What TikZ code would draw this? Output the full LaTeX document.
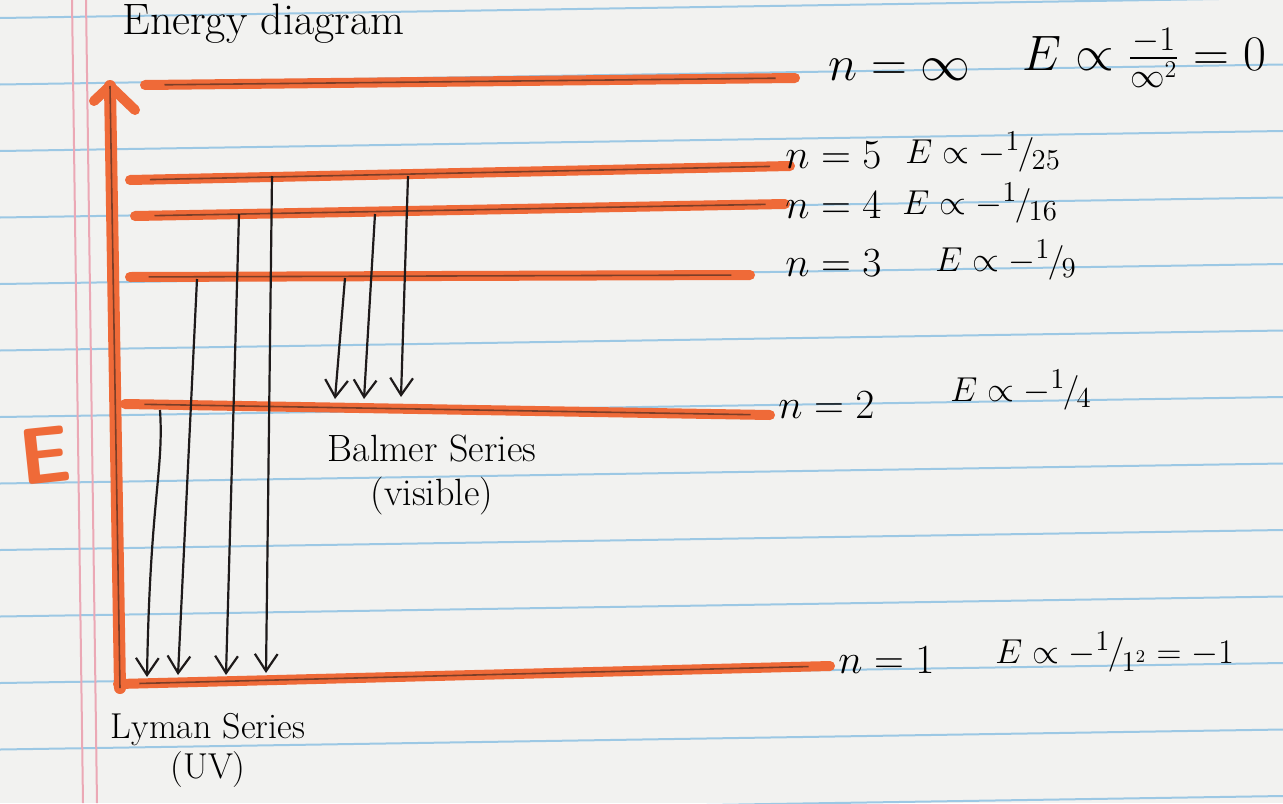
\documentclass[tikz,border=0pt]{standalone}
\usepackage{amsmath,amssymb}
\usepackage{xcolor}
\definecolor{marker}{HTML}{EF6A38}
\definecolor{ink}{HTML}{1E1A1A}
\definecolor{rulecol}{HTML}{9CC8E4}
\definecolor{margincol}{HTML}{EBA8B5}
\definecolor{paper}{HTML}{F2F2F0}
\usepackage{tikz}
\usetikzlibrary{arrows.meta,positioning,calc}
\newcommand{\hfr}[2]{{}^{#1}\mkern-1.5mu/\mkern-1.5mu_{#2}}
\tikzset{
  >={Straight Barb[length=3mm,width=4mm]},
  lvl/.style={draw=marker,line width=5pt,line cap=round,line join=round},
  core/.style={draw=ink,line width=0.8pt,opacity=0.55},
  trans/.style={->,draw=ink,line width=1.1pt},
  paperline/.style={draw=rulecol,line width=1pt},
  marginline/.style={draw=margincol,line width=1pt},
  lab/.style={font=\fontsize{20}{22}\selectfont,anchor=west,inner sep=0pt},
  exprlab/.style={lab,font=\fontsize{19}{22}\selectfont},
  biglab/.style={lab,font=\fontsize{24}{26}\selectfont},
  ser/.style={font=\fontsize{19}{22}\selectfont,align=center,inner sep=0pt},
}

\begin{document}
\begin{tikzpicture}[x=0.5pt,y=-0.5pt]
\useasboundingbox (0,0) rectangle (1283,803);
\fill[paper] (0,0) rectangle (1283,803);
% notebook paper
\foreach \k in {0,...,12}
  \draw[paperline] (0,{18+66.5*\k}) -- (1283,{-2+66.5*\k});
\draw[marginline] (72,0) -- (83,803);
\draw[marginline] (86,0) -- (97,803);
\node[font=\fontsize{22}{24}\selectfont,anchor=base west,inner sep=0pt] (title) at (122,34) {Energy diagram};

% levels
\coordinate (ninfL) at (145,85);  \coordinate (ninfR) at (795,78);
\coordinate (n5L) at (130,180);   \coordinate (n5R) at (790,166);
\coordinate (n4L) at (135,216);   \coordinate (n4R) at (785,204);
\coordinate (n3L) at (130,277);   \coordinate (n3R) at (750,275);
\coordinate (n2L) at (125,404);   \coordinate (n2R) at (770,415);
\coordinate (n1L) at (118,684);   \coordinate (n1R) at (830,666);
\foreach \lv in {ninf,n5,n4,n3,n2,n1}{
  \draw[lvl] (\lv L) -- (\lv R);
  \draw[core] ($(\lv L)!0.03!(\lv R)$) -- ($(\lv L)!0.97!(\lv R)$);
}

% energy axis
\coordinate (origin) at (120,688);
\coordinate (top) at (110,86);
\coordinate (wl) at (94,101);
\coordinate (wr) at (135,110);
\draw[lvl,line width=6pt] (origin) -- (top);
\draw[lvl] (wl) -- (top) -- (wr);
\draw[core] (origin) -- (top);
\node[font=\fontsize{40}{40}\sffamily\bfseries,text=marker,rotate=6,inner sep=0pt] (elab) at (45,455) {E};

% Lyman series
\coordinate (ly2a) at (160,410); \coordinate (ly2b) at (147,677);
\coordinate (ly3a) at (197,279); \coordinate (ly3b) at (178,675);
\coordinate (ly4a) at (239,214); \coordinate (ly4b) at (226,675);
\coordinate (ly5a) at (272,176); \coordinate (ly5b) at (266,673);
\draw[trans] (ly2a) .. controls (164,470) and (150,500) .. (ly2b);
\draw[trans] (ly3a) -- (ly3b);
\draw[trans] (ly4a) -- (ly4b);
\draw[trans] (ly5a) -- (ly5b);

% Balmer series
\coordinate (ba3a) at (345,278); \coordinate (ba3b) at (335,399);
\coordinate (ba4a) at (375,214); \coordinate (ba4b) at (364,399);
\coordinate (ba5a) at (408,176); \coordinate (ba5b) at (401,397);
\draw[trans] (ba3a) -- (ba3b);
\draw[trans] (ba4a) -- (ba4b);
\draw[trans] (ba5a) -- (ba5b);

% labels
\node[biglab] (linf) at (828,70) {$n=\infty$};
\node[biglab] (einf) at (1022,58) {$E\propto\frac{-1}{\infty^2}=0$};
\node[lab] (l5) at (785,155) {$n=5$};
\node[exprlab] (e5) at (905,152) {$E\propto -\hfr{1}{25}$};
\node[lab] (l4) at (785,205) {$n=4$};
\node[exprlab] (e4) at (902,203) {$E\propto -\hfr{1}{16}$};
\node[lab] (l3) at (785,263) {$n=3$};
\node[exprlab] (e3) at (935,260) {$E\propto -\hfr{1}{9}$};
\node[lab] (l2) at (778,405) {$n=2$};
\node[exprlab] (e2) at (950,390) {$E\propto -\hfr{1}{4}$};
\node[lab] (l1) at (838,660) {$n=1$};
\node[exprlab] (e1) at (995,652) {$E\propto -\hfr{1}{1^2}=-1$};
\node[ser] (balmer) at (432,475) {Balmer Series\\(visible)};
\node[ser,font=\fontsize{18}{20}\selectfont] (lyman) at (208,750) {Lyman Series\\(UV)};
\end{tikzpicture}
\end{document}
